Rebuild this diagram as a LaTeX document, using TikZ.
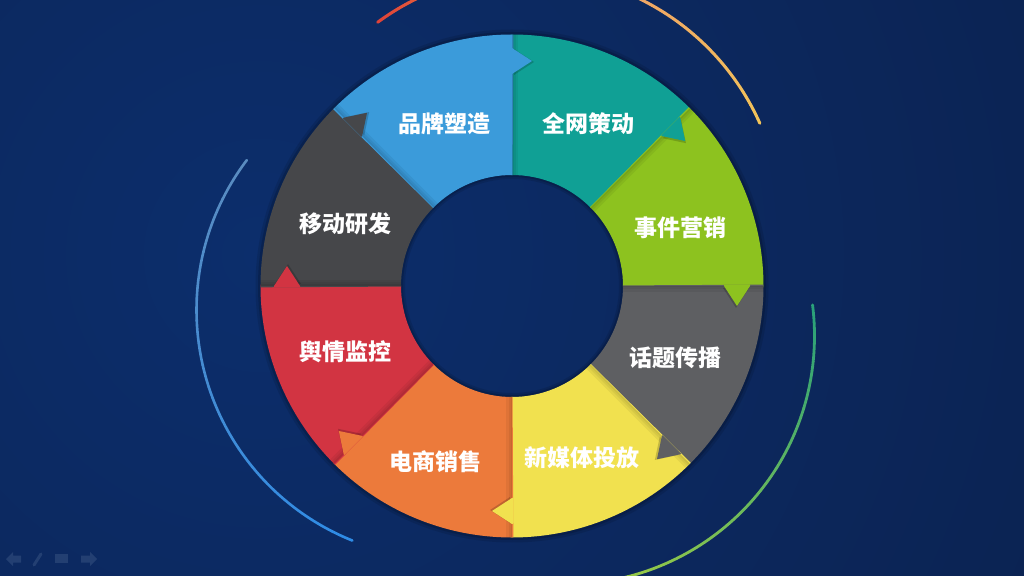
\documentclass[tikz,border=0pt]{standalone}
\usepackage{fontspec}
\newfontfamily\cjk{Noto Sans CJK SC}
\usetikzlibrary{calc}
\definecolor{bgA}{HTML}{0C2E6C}
\definecolor{bgB}{HTML}{0B1C42}
\definecolor{cBlue}{HTML}{3B9BDA}
\definecolor{cTeal}{HTML}{10A095}
\definecolor{cGreen}{HTML}{8DC21F}
\definecolor{cGrayR}{HTML}{5E5F62}
\definecolor{cYellow}{HTML}{F1E14F}
\definecolor{cOrange}{HTML}{EC7A3B}
\definecolor{cRed}{HTML}{D23442}
\definecolor{cGrayL}{HTML}{46474A}
\definecolor{aRed1}{HTML}{DE4238}
\definecolor{aRed2}{HTML}{E8663E}
\definecolor{aOr1}{HTML}{EFA267}
\definecolor{aOr2}{HTML}{F2C35A}
\definecolor{aBl1}{HTML}{5A8CC0}
\definecolor{aBl2}{HTML}{2F8CE6}
\definecolor{aGr1}{HTML}{2AA17A}
\definecolor{aGr2}{HTML}{9CCB45}
\definecolor{navIcon}{HTML}{233F72}
\newcommand\gradarc[7]{%
  \foreach \i in {0,...,39}{
    \pgfmathsetmacro\sa{#3+(#4-#3)*\i/40}
    \pgfmathsetmacro\ea{#3+(#4-#3)*(\i+1)/40}
    \pgfmathtruncatemacro\p{100*\i/39}
    \draw[line width=#7, color=#6!\p!#5, line cap=round] ($(#1)+(\sa:#2)$) arc[start angle=\sa, end angle=\ea, radius=#2];
  }}
\tikzset{
  lbl/.style={text=white, font=\cjk\bfseries\fontsize{23}{23}\selectfont, inner sep=0pt},
}
\begin{document}
\begin{tikzpicture}[x=1pt,y=1pt]
\useasboundingbox (0,0) rectangle (1024,575);
\begin{scope}
\clip (0,0) rectangle (1024,575);
% background
\fill[bgB] (0,0) rectangle (1024,575);
\shade[inner color=bgA, outer color=bgB] (260,320) circle (1400);
% decorative arcs
\coordinate (Oa) at (528,348);
\coordinate (Ob) at (445,265);
\coordinate (Og) at (566,239);
\gradarc{Oa}{254}{126.3}{110}{aRed1}{aRed2}{3}
\gradarc{Oa}{254}{70}{24.1}{aOr1}{aOr2}{3}
\gradarc{Ob}{248.5}{142.9}{248.1}{aBl1}{aBl2}{2.6}
\gradarc{Og}{248.5}{7.2}{-80}{aGr1}{aGr2}{2.8}
% ring
\coordinate (C) at (512,289);
\def\Rin{111}
\def\Rout{251.5}
\fill[black, opacity=0.10, even odd rule] (C) circle (\Rout+5) (C) circle (\Rin-4);
\fill[black, opacity=0.15, even odd rule] (C) circle (\Rout+2.5) (C) circle (\Rin-2);
% bodies
\foreach \a/\col in {45/cTeal, 0/cGreen, -45/cGrayR, -90/cYellow, -135/cOrange, 180/cRed, 135/cGrayL, 90/cBlue}{
  \fill[\col] ($(C)+(\a-0.3:\Rin)$) arc[start angle=\a-0.3, end angle=\a+45.3, radius=\Rin]
     -- ($(C)+(\a+45.3:\Rout)$) arc[start angle=\a+45.3, end angle=\a-0.3, radius=\Rout] -- cycle;
}
% shadows along boundaries (on the side being pointed into)
\begin{scope}[even odd rule]
\clip (C) circle (\Rout) (C) circle (\Rin);
\foreach \a in {90,45,0,-45,-90,-135,180,135}{
  \foreach \w in {1.5,3.5,6}{
    \fill[black, opacity=0.055] ($(C)+(\a:\Rin-2)$) -- ($(C)+(\a:\Rout+2)$) -- ($(C)+(\a:\Rout+2)+(\a-90:\w)$) -- ($(C)+(\a:\Rin-2)+(\a-90:\w)$) -- cycle;
  }
}
% arrow tips
\foreach \a/\col in {45/cTeal, 0/cGreen, -45/cGrayR, -90/cYellow, -135/cOrange, 180/cRed, 135/cGrayL, 90/cBlue}{
  \fill[black, opacity=0.18] ($(C)+(\a:211)+(\a-90:2)$) -- ($(C)+(\a:224)+(\a-90:22)$) -- ($(C)+(\a:237)+(\a-90:2)$) -- cycle;
  \fill[\col] ($(C)+(\a:212)+(\a+90:1)$) -- ($(C)+(\a:212)$) -- ($(C)+(\a:225)+(\a-90:20)$) -- ($(C)+(\a:238)$) -- ($(C)+(\a:238)+(\a+90:1)$) -- cycle;
}
\end{scope}
% labels
\node[lbl] (t1) at (444,451) {品牌塑造};
\node[lbl] (t2) at (588,451) {全网策动};
\node[lbl] (t3) at (680,347) {事件营销};
\node[lbl] (t4) at (675,217) {话题传播};
\node[lbl] (t5) at (582,117) {新媒体投放};
\node[lbl] (t6) at (435,113) {电商销售};
\node[lbl] (t7) at (345,223) {舆情监控};
\node[lbl] (t8) at (345,351) {移动研发};
% nav icons
\fill[navIcon] (6,16) -- (13,23) -- (13,19.5) -- (21,19.5) -- (21,12.5) -- (13,12.5) -- (13,9) -- cycle;
\draw[navIcon, line width=3, line cap=round] (34,10) -- (41,21);
\fill[navIcon] (55,12) rectangle (68,21);
\fill[navIcon] (97,16) -- (90,23) -- (90,19.5) -- (81,19.5) -- (81,12.5) -- (90,12.5) -- (90,9) -- cycle;
\end{scope}
\end{tikzpicture}
\end{document}
